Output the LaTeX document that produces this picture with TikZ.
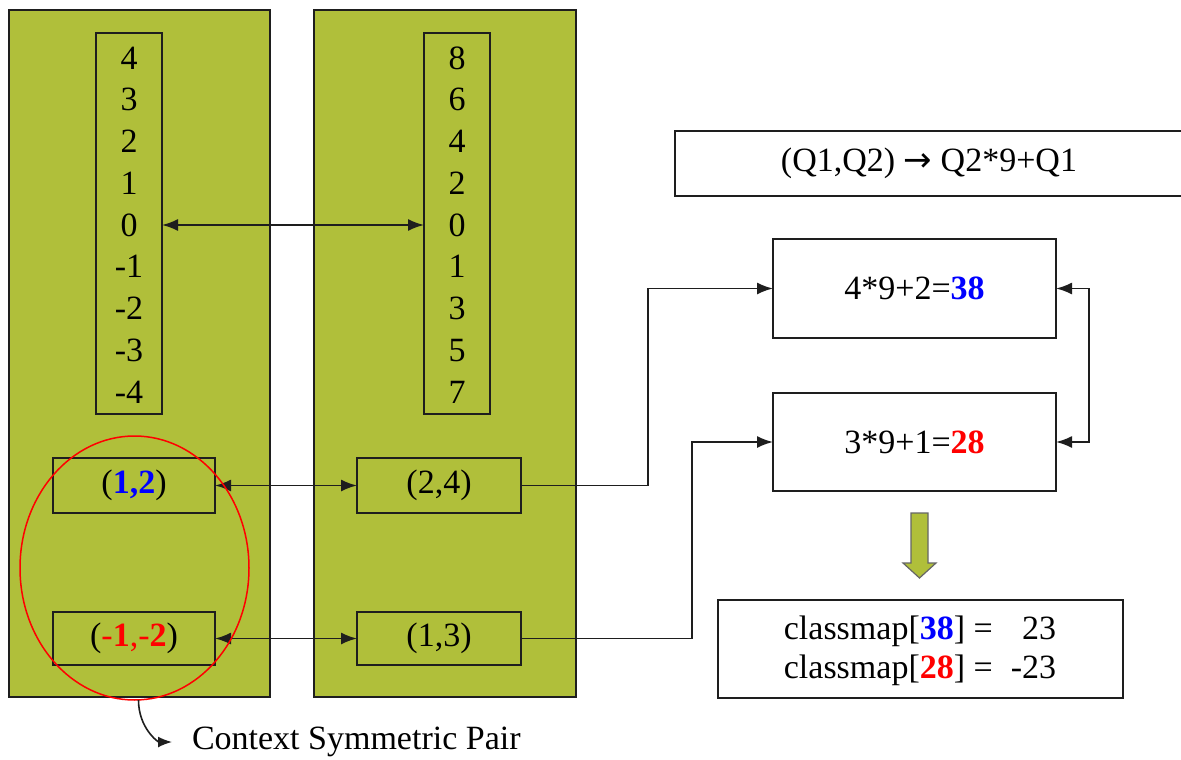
\documentclass[tikz,border=0pt]{standalone}
\usepackage{fontspec}
\setmainfont{Liberation Serif}
\newfontfamily\arrowfont{DejaVu Sans}
\usetikzlibrary{arrows.meta,shapes.geometric}
\definecolor{panelgreen}{RGB}{176,191,58}
\definecolor{lineblack}{RGB}{30,30,30}
\definecolor{numblue}{RGB}{0,0,255}
\definecolor{numred}{RGB}{255,0,0}
\begin{document}
\begin{tikzpicture}[x=1pt,y=-1pt,
  every node/.style={font=\fontsize{34}{39}\selectfont, inner sep=0pt, outer sep=0pt},
  panel/.style={draw=lineblack, line width=1.8pt, fill=panelgreen, rectangle},
  box/.style={draw=lineblack, line width=1.8pt, rectangle},
  conn/.style={draw=lineblack, line width=1.8pt, -{Latex[length=16pt,width=12pt]}},
  dconn/.style={draw=lineblack, line width=1.8pt, {Latex[length=16pt,width=12pt]}-{Latex[length=16pt,width=12pt]}},
]
\useasboundingbox (0,0) rectangle (1181,760);

% panels
\node[panel, minimum width=261pt, minimum height=687pt] (pL) at (139.5,353.5) {};
\node[panel, minimum width=262pt, minimum height=687pt] (pR) at (445,353.5) {};

% value columns
\node[box, minimum width=66pt, minimum height=381pt] (colL) at (129,223.5) {};
\node[box, minimum width=66pt, minimum height=381pt] (colR) at (457,223.5) {};

\foreach \v [count=\i from 0] in {4,3,2,1,0,-1,-2,-3,-4}
  \node (l\i) at (129,58+41.75*\i) {\v};
\foreach \v [count=\i from 0] in {8,6,4,2,0,1,3,5,7}
  \node (r\i) at (457,58+41.75*\i) {\v};

\draw[dconn] (l4 -| colL.east) -- (r4 -| colR.west);

% pair boxes
\node[box, minimum width=162pt, minimum height=55pt] (p12) at (134,485.5) {(\textcolor{numblue}{\textbf{1,2}})};
\node[box, minimum width=164pt, minimum height=55pt] (p24) at (439,485.5) {(2,4)};
\node[box, minimum width=162pt, minimum height=53pt] (pm12) at (134,638.5) {(\textcolor{numred}{-\textbf{1},-\textbf{2}})};
\node[box, minimum width=164pt, minimum height=53pt] (p13) at (439,638.5) {(1,3)};

\draw[dconn] (p12.east) -- (p24.west);
\draw[dconn] (pm12.east) -- (p13.west);

% ellipse
\node[draw=numred, line width=1.5pt, ellipse, minimum width=229pt, minimum height=264pt] (ell) at (134.5,568) {};
\node[anchor=west] (cspair) at (192,742) {Context Symmetric Pair};
\draw[draw=lineblack, line width=1.6pt, -{Latex[length=14pt,width=11pt]}]
  ([xshift=4pt]ell.south) .. controls +(0,28) and +(-14,0) .. ([xshift=-20pt]cspair.west);

% formula boxes
\node[box, minimum width=510pt, minimum height=65pt] (topbox) at (930,163.5) {};
\node (toptext) at (929,163) {(Q1,Q2) {\arrowfont\fontsize{34}{39}\selectfont →} Q2*9+Q1};

\node[box, minimum width=283pt, minimum height=99pt] (b38) at (914.5,288.5) {4*9+2=\textcolor{numblue}{\textbf{38}}};
\node[box, minimum width=283pt, minimum height=98pt] (b28) at (914.5,442) {3*9+1=\textcolor{numred}{\textbf{28}}};

\draw[conn] (p24.east) -- ++(127,0) |- (b38.west);
\draw[conn] (p13.east) -- ++(171,0) |- (b28.west);
\draw[dconn] (b38.east) -- ++(33,0) |- (b28.east);

% green down arrow
\draw[draw=black!60, line width=1.2pt, fill=panelgreen]
  (911,513) -- (928,513) -- (928,563) -- (936,563) -- (919.5,578) -- (903,563) -- (911,563) -- cycle;

% classmap box
\node[box, minimum width=405pt, minimum height=98pt] (cmbox) at (920.5,649) {};
\node[align=center] (cmtext) at (920,651)
  {classmap[\textcolor{numblue}{\textbf{38}}] =\hspace{18pt}\hphantom{-}23\\
   classmap[\textcolor{numred}{\textbf{28}}] =\hspace{18pt}-23};
\end{tikzpicture}
\end{document}
